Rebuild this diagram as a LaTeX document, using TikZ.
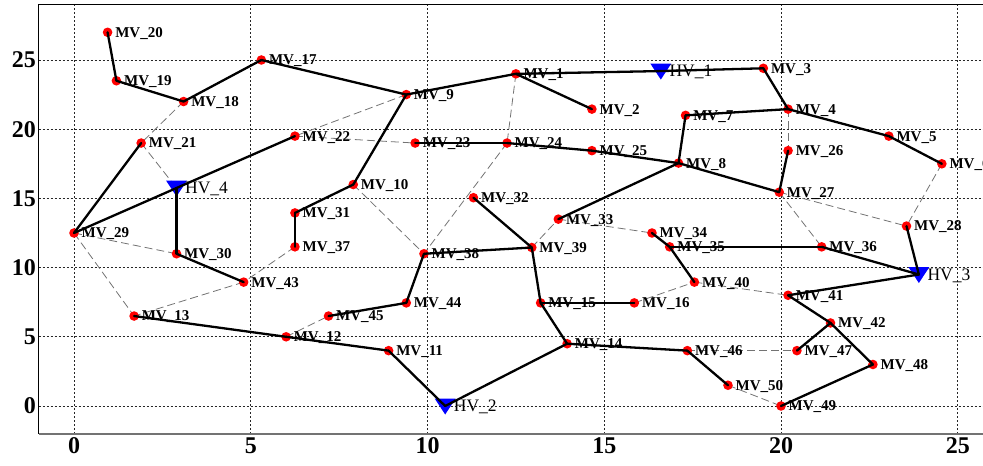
\documentclass[tikz,border=0pt]{standalone}
\usepackage{fontspec}
\setmainfont{Liberation Serif}
\tikzset{
  gridline/.style={black!85, line width=0.7pt, dash pattern=on 2pt off 2pt},
  feeder/.style={black, line width=2.3pt, line cap=round, line join=round},
  tie/.style={black!55, line width=0.8pt, dash pattern=on 8pt off 4pt},
  mvlabel/.style={anchor=base west, inner sep=0pt, xshift=7.5pt, yshift=-4.9pt,
    font=\bfseries\fontsize{15}{15}\selectfont},
  hvlabel/.style={anchor=base west, inner sep=0pt, xshift=8.5pt, yshift=-5.6pt,
    font=\fontsize{17.5}{17.5}\selectfont},
  ticklabel/.style={inner sep=0pt, font=\bfseries\fontsize{24}{24}\selectfont}
}
\begin{document}
\begin{tikzpicture}[x=35.35pt, y=13.84pt]
\useasboundingbox (-2.0934,-4.263) rectangle (25.714,29.335);
\clip (-2.0934,-4.263) rectangle (25.714,29.335);

% grid
\foreach \gx in {0,5,...,25} \draw[gridline] (\gx,-2) -- (\gx,29);
\foreach \gy in {0,5,...,25} \draw[gridline] (-1,\gy) -- (26,\gy);

% axes frame
\draw[black, line width=1pt] (-1,-2) -- (-1,29) -- (27,29);
\draw[black!55, line width=1.8pt] (-1,-2) -- (27,-2);

% tick labels
\foreach \gy in {0,5,...,25} \node[ticklabel, anchor=east] (yt\gy) at (-1.075,\gy) {\gy};
\foreach \gx in {0,5,...,25} \node[ticklabel, anchor=north] (xt\gx) at (\gx,-2.3) {\gx};

% bus positions
\coordinate (MV1) at (12.5,24);
\coordinate (MV2) at (14.65,21.45);
\coordinate (MV3) at (19.5,24.4);
\coordinate (MV4) at (20.2,21.45);
\coordinate (MV5) at (23.05,19.5);
\coordinate (MV6) at (24.55,17.5);
\coordinate (MV7) at (17.3,21);
\coordinate (MV8) at (17.1,17.55);
\coordinate (MV9) at (9.4,22.5);
\coordinate (MV10) at (7.9,16);
\coordinate (MV11) at (8.9,4);
\coordinate (MV12) at (6,5);
\coordinate (MV13) at (1.7,6.5);
\coordinate (MV14) at (13.95,4.5);
\coordinate (MV15) at (13.2,7.45);
\coordinate (MV16) at (15.85,7.45);
\coordinate (MV17) at (5.3,25);
\coordinate (MV18) at (3.1,22);
\coordinate (MV19) at (1.2,23.5);
\coordinate (MV20) at (0.95,27);
\coordinate (MV21) at (1.9,19);
\coordinate (MV22) at (6.25,19.5);
\coordinate (MV23) at (9.65,19);
\coordinate (MV24) at (12.25,19);
\coordinate (MV25) at (14.65,18.45);
\coordinate (MV26) at (20.2,18.45);
\coordinate (MV27) at (19.95,15.45);
\coordinate (MV28) at (23.55,13);
\coordinate (MV29) at (0,12.5);
\coordinate (MV30) at (2.9,11);
\coordinate (MV31) at (6.25,13.95);
\coordinate (MV32) at (11.3,15.05);
\coordinate (MV33) at (13.7,13.5);
\coordinate (MV34) at (16.35,12.5);
\coordinate (MV35) at (16.85,11.5);
\coordinate (MV36) at (21.15,11.5);
\coordinate (MV37) at (6.25,11.5);
\coordinate (MV38) at (9.9,11);
\coordinate (MV39) at (12.95,11.45);
\coordinate (MV40) at (17.55,8.95);
\coordinate (MV41) at (20.2,8);
\coordinate (MV42) at (21.4,6);
\coordinate (MV43) at (4.8,8.95);
\coordinate (MV44) at (9.4,7.45);
\coordinate (MV45) at (7.2,6.5);
\coordinate (MV46) at (17.35,4);
\coordinate (MV47) at (20.45,4);
\coordinate (MV48) at (22.6,3);
\coordinate (MV49) at (20,0);
\coordinate (MV50) at (18.5,1.5);
\coordinate (HV1) at (16.6,24.2);
\coordinate (HV2) at (10.5,0);
\coordinate (HV3) at (23.9,9.5);
\coordinate (HV4) at (2.9,15.75);

% normally open tie lines
\foreach \a/\b in {MV18/MV21, MV21/HV4, MV9/MV22, MV22/MV23, MV1/MV24, MV24/MV38,
  MV10/MV38, MV37/MV43, MV43/MV13, MV29/MV13, MV29/MV30, MV12/MV45, MV39/MV33,
  MV33/MV34, MV16/MV40, MV40/MV41, MV46/MV47, MV50/MV49, MV4/MV26, MV27/MV28,
  MV27/MV36, MV6/MV28}
  \draw[tie] (\a) -- (\b);

% MV buses
\foreach \n in {1,...,50} \fill[red] (MV\n) circle[radius=4.8pt];

% HV substations
\foreach \n in {1,...,4}
  \fill[blue] (HV\n) ++(-10.5pt,7.5pt) -- ++(21pt,0pt) -- ++(-10.5pt,-16pt) -- cycle;

% closed feeders
\foreach \a/\b in {MV20/MV19, MV19/MV18, MV18/MV17, MV17/MV9, MV9/MV1, MV1/MV2,
  MV1/HV1, HV1/MV3, MV3/MV4, MV4/MV7, MV7/MV8, MV4/MV5, MV5/MV6, MV26/MV27,
  MV8/MV27, MV25/MV8, MV24/MV25, MV23/MV24, MV9/MV10, MV10/MV31, MV31/MV37,
  MV29/MV21, MV29/HV4, HV4/MV22, HV4/MV30, MV30/MV43, MV13/MV12, MV12/MV11,
  MV11/HV2, HV2/MV14, MV14/MV15, MV15/MV39, MV39/MV38, MV38/MV44, MV44/MV45,
  MV32/MV39, MV33/MV8, MV15/MV16, MV34/MV35, MV35/MV40, MV35/MV36, MV36/HV3,
  MV28/HV3, HV3/MV41, MV41/MV42, MV42/MV48, MV42/MV47, MV48/MV49, MV14/MV46,
  MV46/MV50}
  \draw[feeder] (\a) -- (\b);

% bus labels
\foreach \n in {1,...,50} \node[mvlabel] (lMV\n) at (MV\n) {MV\_\n};
\foreach \n in {1,...,4} \node[hvlabel] (lHV\n) at (HV\n) {HV\_\n};
\end{tikzpicture}
\end{document}
